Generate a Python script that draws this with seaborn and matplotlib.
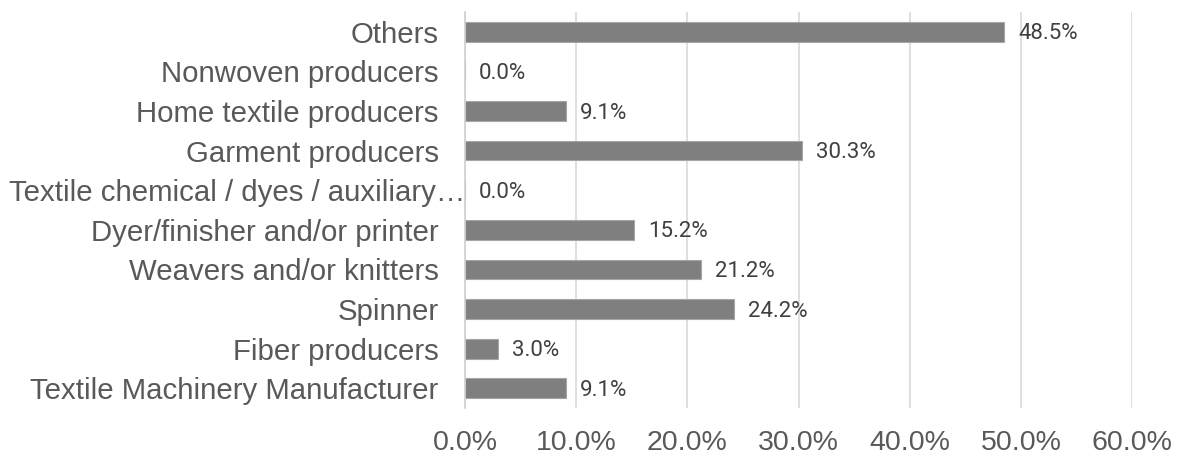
import matplotlib
matplotlib.use("Agg")
import matplotlib.pyplot as plt
import matplotlib.transforms as mtransforms
from matplotlib.ticker import FuncFormatter, MultipleLocator
import seaborn as sns
import pandas as pd

categories = [
    "Others",
    "Nonwoven producers",
    "Home textile producers",
    "Garment producers",
    "Textile chemical / dyes / auxiliary…",
    "Dyer/finisher and/or printer",
    "Weavers and/or knitters",
    "Spinner",
    "Fiber producers",
    "Textile Machinery Manufacturer",
]
shares = [48.5, 0.0, 9.1, 30.3, 0.0, 15.2, 21.2, 24.2, 3.0, 9.1]

df = pd.DataFrame({"category": categories, "share": shares})

sns.set_theme(style="white")
plt.rcParams["font.family"] = ["Liberation Sans", "DejaVu Sans"]

fig = plt.figure(figsize=(11.79, 4.58), dpi=100)
ax = fig.add_axes([465 / 1179, 1 - 408 / 458, (1132 - 465) / 1179, (408 - 12) / 458])

sns.barplot(data=df, x="share", y="category", order=categories, orient="h",
            color="#7f7f7f", saturation=1, width=0.5, ax=ax,
            edgecolor="#a6a6a6", linewidth=0.8, zorder=3)

ax.set_xlim(0, 60)
ax.set_ylim(len(categories) - 0.5, -0.5)
ax.xaxis.set_major_locator(MultipleLocator(10))
ax.xaxis.set_major_formatter(FuncFormatter(lambda v, _: f"{v:.1f}%"))
ax.grid(axis="x", color="#d9d9d9", linewidth=1.2, zorder=0)
ax.set_axisbelow(True)

for side in ["top", "right", "bottom"]:
    ax.spines[side].set_visible(False)
ax.spines["left"].set_color("#d0d0d0")
ax.spines["left"].set_linewidth(1.2)
ax.spines["left"].set_zorder(4)

ax.set_xlabel("")
ax.set_ylabel("")
ax.tick_params(axis="x", length=0, pad=16, labelsize=20.5, labelcolor="#595959")
ax.tick_params(axis="y", length=0, pad=19, labelsize=21.2, labelcolor="#595959")

# the truncated label fills the full width up to the axis
for lbl in ax.get_yticklabels():
    if lbl.get_text().endswith("…"):
        off = mtransforms.ScaledTranslation(19 / 72, 0, fig.dpi_scale_trans)
        lbl.set_transform(lbl.get_transform() + off)

for i, v in enumerate(shares):
    ax.annotate(f"{v:.1f}%", xy=(v, i), xytext=(10, -1.5), textcoords="offset points",
                ha="left", va="center", fontsize=16, color="#404040",
                family=["Roboto", "DejaVu Sans"])

fig.savefig("out.png", dpi=100)
